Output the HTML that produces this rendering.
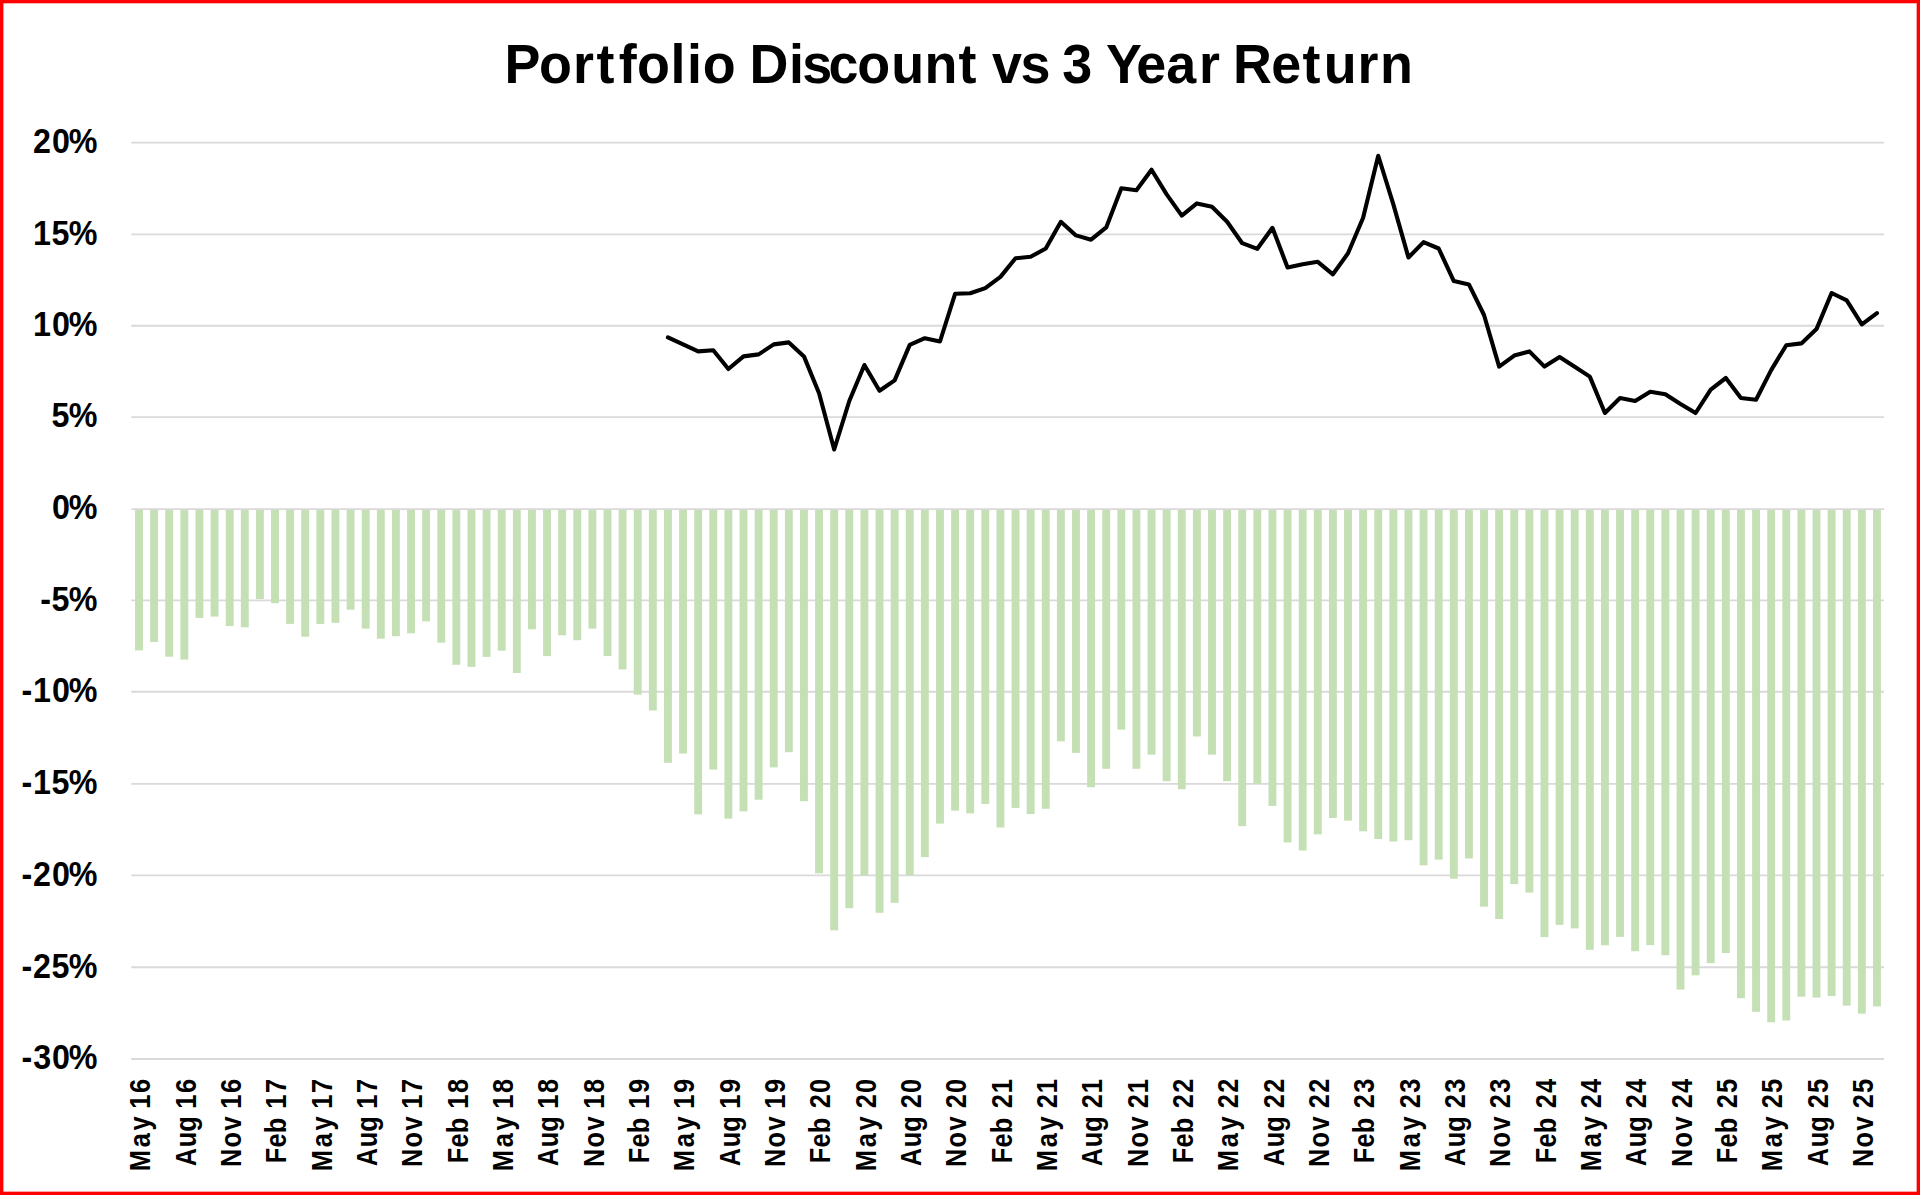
<!DOCTYPE html>
<html lang="en"><head><meta charset="utf-8"><title>Portfolio Discount vs 3 Year Return</title>
<style>html,body{margin:0;padding:0;background:#fff;overflow:hidden}svg{display:block}text{font-family:"Liberation Sans",sans-serif;font-weight:bold;fill:#000;white-space:pre}</style></head><body>
<svg width="1920" height="1195" viewBox="0 0 1920 1195">
<rect x="0" y="0" width="1920" height="1195" fill="#fff"/>
<g stroke="#d9d9d9" stroke-width="1.9" fill="none">
<line x1="131.3" y1="142.60" x2="1884.0" y2="142.60"/>
<line x1="131.3" y1="234.40" x2="1884.0" y2="234.40"/>
<line x1="131.3" y1="325.70" x2="1884.0" y2="325.70"/>
<line x1="131.3" y1="417.10" x2="1884.0" y2="417.10"/>
<line x1="131.3" y1="600.40" x2="1884.0" y2="600.40"/>
<line x1="131.3" y1="691.80" x2="1884.0" y2="691.80"/>
<line x1="131.3" y1="783.90" x2="1884.0" y2="783.90"/>
<line x1="131.3" y1="875.40" x2="1884.0" y2="875.40"/>
<line x1="131.3" y1="967.20" x2="1884.0" y2="967.20"/>
<line x1="131.3" y1="1059.00" x2="1884.0" y2="1059.00"/>
</g>
<g fill="#c5e0b4">
<rect x="135.05" y="509.10" width="7.9" height="141.30"/>
<rect x="150.16" y="509.10" width="7.9" height="132.90"/>
<rect x="165.28" y="509.10" width="7.9" height="147.60"/>
<rect x="180.39" y="509.10" width="7.9" height="150.50"/>
<rect x="195.50" y="509.10" width="7.9" height="108.80"/>
<rect x="210.61" y="509.10" width="7.9" height="107.50"/>
<rect x="225.73" y="509.10" width="7.9" height="117.00"/>
<rect x="240.84" y="509.10" width="7.9" height="118.20"/>
<rect x="255.95" y="509.10" width="7.9" height="89.90"/>
<rect x="271.06" y="509.10" width="7.9" height="94.10"/>
<rect x="286.18" y="509.10" width="7.9" height="114.80"/>
<rect x="301.29" y="509.10" width="7.9" height="127.60"/>
<rect x="316.40" y="509.10" width="7.9" height="114.80"/>
<rect x="331.51" y="509.10" width="7.9" height="113.70"/>
<rect x="346.63" y="509.10" width="7.9" height="100.60"/>
<rect x="361.74" y="509.10" width="7.9" height="119.50"/>
<rect x="376.85" y="509.10" width="7.9" height="129.60"/>
<rect x="391.96" y="509.10" width="7.9" height="127.10"/>
<rect x="407.08" y="509.10" width="7.9" height="124.20"/>
<rect x="422.19" y="509.10" width="7.9" height="112.30"/>
<rect x="437.30" y="509.10" width="7.9" height="133.60"/>
<rect x="452.41" y="509.10" width="7.9" height="155.70"/>
<rect x="467.53" y="509.10" width="7.9" height="157.80"/>
<rect x="482.64" y="509.10" width="7.9" height="147.80"/>
<rect x="497.75" y="509.10" width="7.9" height="141.60"/>
<rect x="512.87" y="509.10" width="7.9" height="163.90"/>
<rect x="527.98" y="509.10" width="7.9" height="120.20"/>
<rect x="543.09" y="509.10" width="7.9" height="147.00"/>
<rect x="558.20" y="509.10" width="7.9" height="126.20"/>
<rect x="573.32" y="509.10" width="7.9" height="131.10"/>
<rect x="588.43" y="509.10" width="7.9" height="119.50"/>
<rect x="603.54" y="509.10" width="7.9" height="147.00"/>
<rect x="618.65" y="509.10" width="7.9" height="160.40"/>
<rect x="633.77" y="509.10" width="7.9" height="185.50"/>
<rect x="648.88" y="509.10" width="7.9" height="201.40"/>
<rect x="663.99" y="509.10" width="7.9" height="253.70"/>
<rect x="679.10" y="509.10" width="7.9" height="244.40"/>
<rect x="694.22" y="509.10" width="7.9" height="305.30"/>
<rect x="709.33" y="509.10" width="7.9" height="260.50"/>
<rect x="724.44" y="509.10" width="7.9" height="309.50"/>
<rect x="739.55" y="509.10" width="7.9" height="302.30"/>
<rect x="754.67" y="509.10" width="7.9" height="290.60"/>
<rect x="769.78" y="509.10" width="7.9" height="258.30"/>
<rect x="784.89" y="509.10" width="7.9" height="243.10"/>
<rect x="800.00" y="509.10" width="7.9" height="292.10"/>
<rect x="815.12" y="509.10" width="7.9" height="364.20"/>
<rect x="830.23" y="509.10" width="7.9" height="421.30"/>
<rect x="845.34" y="509.10" width="7.9" height="399.10"/>
<rect x="860.45" y="509.10" width="7.9" height="366.10"/>
<rect x="875.57" y="509.10" width="7.9" height="403.70"/>
<rect x="890.68" y="509.10" width="7.9" height="393.70"/>
<rect x="905.79" y="509.10" width="7.9" height="366.10"/>
<rect x="920.91" y="509.10" width="7.9" height="348.00"/>
<rect x="936.02" y="509.10" width="7.9" height="314.50"/>
<rect x="951.13" y="509.10" width="7.9" height="301.50"/>
<rect x="966.24" y="509.10" width="7.9" height="304.30"/>
<rect x="981.36" y="509.10" width="7.9" height="294.80"/>
<rect x="996.47" y="509.10" width="7.9" height="318.40"/>
<rect x="1011.58" y="509.10" width="7.9" height="298.80"/>
<rect x="1026.69" y="509.10" width="7.9" height="304.90"/>
<rect x="1041.81" y="509.10" width="7.9" height="299.70"/>
<rect x="1056.92" y="509.10" width="7.9" height="232.20"/>
<rect x="1072.03" y="509.10" width="7.9" height="243.80"/>
<rect x="1087.14" y="509.10" width="7.9" height="278.10"/>
<rect x="1102.26" y="509.10" width="7.9" height="259.70"/>
<rect x="1117.37" y="509.10" width="7.9" height="220.50"/>
<rect x="1132.48" y="509.10" width="7.9" height="259.70"/>
<rect x="1147.59" y="509.10" width="7.9" height="245.60"/>
<rect x="1162.71" y="509.10" width="7.9" height="272.10"/>
<rect x="1177.82" y="509.10" width="7.9" height="280.10"/>
<rect x="1192.93" y="509.10" width="7.9" height="227.40"/>
<rect x="1208.04" y="509.10" width="7.9" height="245.60"/>
<rect x="1223.16" y="509.10" width="7.9" height="272.10"/>
<rect x="1238.27" y="509.10" width="7.9" height="317.10"/>
<rect x="1253.38" y="509.10" width="7.9" height="274.60"/>
<rect x="1268.49" y="509.10" width="7.9" height="296.80"/>
<rect x="1283.61" y="509.10" width="7.9" height="333.30"/>
<rect x="1298.72" y="509.10" width="7.9" height="341.40"/>
<rect x="1313.83" y="509.10" width="7.9" height="325.30"/>
<rect x="1328.95" y="509.10" width="7.9" height="308.90"/>
<rect x="1344.06" y="509.10" width="7.9" height="311.50"/>
<rect x="1359.17" y="509.10" width="7.9" height="322.20"/>
<rect x="1374.28" y="509.10" width="7.9" height="329.90"/>
<rect x="1389.40" y="509.10" width="7.9" height="332.40"/>
<rect x="1404.51" y="509.10" width="7.9" height="331.10"/>
<rect x="1419.62" y="509.10" width="7.9" height="356.20"/>
<rect x="1434.73" y="509.10" width="7.9" height="350.50"/>
<rect x="1449.85" y="509.10" width="7.9" height="369.60"/>
<rect x="1464.96" y="509.10" width="7.9" height="349.40"/>
<rect x="1480.07" y="509.10" width="7.9" height="397.60"/>
<rect x="1495.18" y="509.10" width="7.9" height="409.90"/>
<rect x="1510.30" y="509.10" width="7.9" height="375.00"/>
<rect x="1525.41" y="509.10" width="7.9" height="383.50"/>
<rect x="1540.52" y="509.10" width="7.9" height="428.00"/>
<rect x="1555.63" y="509.10" width="7.9" height="415.80"/>
<rect x="1570.75" y="509.10" width="7.9" height="419.30"/>
<rect x="1585.86" y="509.10" width="7.9" height="440.70"/>
<rect x="1600.97" y="509.10" width="7.9" height="436.20"/>
<rect x="1616.08" y="509.10" width="7.9" height="427.80"/>
<rect x="1631.20" y="509.10" width="7.9" height="442.10"/>
<rect x="1646.31" y="509.10" width="7.9" height="436.00"/>
<rect x="1661.42" y="509.10" width="7.9" height="446.10"/>
<rect x="1676.54" y="509.10" width="7.9" height="480.40"/>
<rect x="1691.65" y="509.10" width="7.9" height="466.20"/>
<rect x="1706.76" y="509.10" width="7.9" height="454.10"/>
<rect x="1721.87" y="509.10" width="7.9" height="443.90"/>
<rect x="1736.99" y="509.10" width="7.9" height="489.10"/>
<rect x="1752.10" y="509.10" width="7.9" height="502.70"/>
<rect x="1767.21" y="509.10" width="7.9" height="513.20"/>
<rect x="1782.32" y="509.10" width="7.9" height="511.40"/>
<rect x="1797.44" y="509.10" width="7.9" height="487.60"/>
<rect x="1812.55" y="509.10" width="7.9" height="488.40"/>
<rect x="1827.66" y="509.10" width="7.9" height="486.90"/>
<rect x="1842.77" y="509.10" width="7.9" height="496.50"/>
<rect x="1857.89" y="509.10" width="7.9" height="504.50"/>
<rect x="1873.00" y="509.10" width="7.9" height="497.30"/>
</g>
<line x1="131.3" y1="509.10" x2="1884.0" y2="509.10" stroke="#d9d9d9" stroke-width="1.9"/>
<polyline points="667.94,337.45 683.05,344.30 698.17,351.40 713.28,350.30 728.39,369.00 743.50,356.40 758.62,354.40 773.73,344.40 788.84,342.40 803.95,356.40 819.07,393.30 834.18,449.50 849.29,401.00 864.40,365.00 879.52,390.80 894.63,380.40 909.74,344.90 924.86,338.20 939.97,341.50 955.08,293.80 970.19,293.20 985.31,288.10 1000.42,276.90 1015.53,258.30 1030.64,256.80 1045.76,248.50 1060.87,221.80 1075.98,235.40 1091.09,239.70 1106.21,227.40 1121.32,188.20 1136.43,190.20 1151.54,169.70 1166.66,194.40 1181.77,215.60 1196.88,203.40 1211.99,206.70 1227.11,221.70 1242.22,243.20 1257.33,248.80 1272.44,227.80 1287.56,267.50 1302.67,264.20 1317.78,261.80 1332.90,274.30 1348.01,253.30 1363.12,217.80 1378.23,155.75 1393.35,204.40 1408.46,257.50 1423.57,242.10 1438.68,248.50 1453.80,281.10 1468.91,284.40 1484.02,315.00 1499.13,366.60 1514.25,355.60 1529.36,351.40 1544.47,366.60 1559.58,357.00 1574.70,366.70 1589.81,376.60 1604.92,413.00 1620.03,398.00 1635.15,400.90 1650.26,391.70 1665.37,394.20 1680.49,403.90 1695.60,413.00 1710.71,389.60 1725.82,378.00 1740.94,398.00 1756.05,399.70 1771.16,370.10 1786.27,345.20 1801.39,343.40 1816.50,329.10 1831.61,293.00 1846.72,300.40 1861.84,324.40 1876.95,313.05" fill="none" stroke="#000" stroke-width="4.1" stroke-linejoin="round" stroke-linecap="round"/>
<text transform="scale(0.9573,1)" font-size="56.3" y="83" x="527.12 563.02 598.44 623.23 646.25 665.29 700.54 717.67 734.23 768.62 782.83 824.22 838.10 865.49 895.52 931.04 965.86 1001.37 1020.12 1036.21 1065.97 1097.28 1109.58 1140.89 1155.42 1186.84 1218.15 1252.41 1274.31 1288.12 1327.86 1360.66 1382.87 1418.18 1441.62">Portfolio Discount vs 3 Year Return</text>
<g font-size="34.7">
<text transform="scale(0.93,1)" y="153.00" x="35.52 55.81 73.93">20%</text>
<text transform="scale(0.93,1)" y="244.80" x="35.42 55.30 73.93">15%</text>
<text transform="scale(0.93,1)" y="336.10" x="35.42 55.81 73.93">10%</text>
<text transform="scale(0.93,1)" y="427.50" x="55.30 73.93">5%</text>
<text transform="scale(0.93,1)" y="519.50" x="55.81 73.93">0%</text>
<text transform="scale(0.93,1)" y="610.80" x="43.36 55.30 73.93">-5%</text>
<text transform="scale(0.93,1)" y="702.20" x="23.01 35.42 55.81 73.93">-10%</text>
<text transform="scale(0.93,1)" y="794.30" x="23.01 35.42 55.30 73.93">-15%</text>
<text transform="scale(0.93,1)" y="885.80" x="23.01 35.52 55.81 73.93">-20%</text>
<text transform="scale(0.93,1)" y="977.60" x="23.01 35.52 55.30 73.93">-25%</text>
<text transform="scale(0.93,1)" y="1069.40" x="23.01 35.86 55.81 73.93">-30%</text>
</g>
<g font-size="29.3">
<text transform="translate(150.30,1200) rotate(-90) scale(0.865,1)" y="0" x="33.20 60.90 80.49 96.78 105.44 123.81">May 16</text>
<text transform="translate(195.64,1200) rotate(-90) scale(0.865,1)" y="0" x="39.04 60.91 78.89 96.78 105.44 123.81">Aug 16</text>
<text transform="translate(240.98,1200) rotate(-90) scale(0.865,1)" y="0" x="38.27 60.59 80.36 96.65 105.44 123.81">Nov 16</text>
<text transform="translate(286.31,1200) rotate(-90) scale(0.865,1)" y="0" x="42.52 60.68 77.30 95.20 105.44 123.83">Feb 17</text>
<text transform="translate(331.65,1200) rotate(-90) scale(0.865,1)" y="0" x="33.20 60.90 80.49 96.78 105.44 123.83">May 17</text>
<text transform="translate(376.99,1200) rotate(-90) scale(0.865,1)" y="0" x="39.04 60.91 78.89 96.78 105.44 123.83">Aug 17</text>
<text transform="translate(422.33,1200) rotate(-90) scale(0.865,1)" y="0" x="38.27 60.59 80.36 96.65 105.44 123.83">Nov 17</text>
<text transform="translate(467.66,1200) rotate(-90) scale(0.865,1)" y="0" x="42.52 60.68 77.30 95.20 105.44 123.80">Feb 18</text>
<text transform="translate(513.00,1200) rotate(-90) scale(0.865,1)" y="0" x="33.20 60.90 80.49 96.78 105.44 123.80">May 18</text>
<text transform="translate(558.34,1200) rotate(-90) scale(0.865,1)" y="0" x="39.04 60.91 78.89 96.78 105.44 123.80">Aug 18</text>
<text transform="translate(603.68,1200) rotate(-90) scale(0.865,1)" y="0" x="38.27 60.59 80.36 96.65 105.44 123.80">Nov 18</text>
<text transform="translate(649.02,1200) rotate(-90) scale(0.865,1)" y="0" x="42.52 60.68 77.30 95.20 105.44 123.85">Feb 19</text>
<text transform="translate(694.35,1200) rotate(-90) scale(0.865,1)" y="0" x="33.20 60.90 80.49 96.78 105.44 123.85">May 19</text>
<text transform="translate(739.69,1200) rotate(-90) scale(0.865,1)" y="0" x="39.04 60.91 78.89 96.78 105.44 123.85">Aug 19</text>
<text transform="translate(785.03,1200) rotate(-90) scale(0.865,1)" y="0" x="38.27 60.59 80.36 96.65 105.44 123.85">Nov 19</text>
<text transform="translate(830.37,1200) rotate(-90) scale(0.865,1)" y="0" x="42.52 60.68 77.30 95.20 106.04 123.84">Feb 20</text>
<text transform="translate(875.70,1200) rotate(-90) scale(0.865,1)" y="0" x="33.20 60.90 80.49 96.78 106.04 123.84">May 20</text>
<text transform="translate(921.04,1200) rotate(-90) scale(0.865,1)" y="0" x="39.04 60.91 78.89 96.78 106.04 123.84">Aug 20</text>
<text transform="translate(966.38,1200) rotate(-90) scale(0.865,1)" y="0" x="38.27 60.59 80.36 96.65 106.04 123.84">Nov 20</text>
<text transform="translate(1011.72,1200) rotate(-90) scale(0.865,1)" y="0" x="42.52 60.68 77.30 95.20 106.04 123.30">Feb 21</text>
<text transform="translate(1057.06,1200) rotate(-90) scale(0.865,1)" y="0" x="33.20 60.90 80.49 96.78 106.04 123.30">May 21</text>
<text transform="translate(1102.39,1200) rotate(-90) scale(0.865,1)" y="0" x="39.04 60.91 78.89 96.78 106.04 123.30">Aug 21</text>
<text transform="translate(1147.73,1200) rotate(-90) scale(0.865,1)" y="0" x="38.27 60.59 80.36 96.65 106.04 123.30">Nov 21</text>
<text transform="translate(1193.07,1200) rotate(-90) scale(0.865,1)" y="0" x="42.52 60.68 77.30 95.20 106.04 123.90">Feb 22</text>
<text transform="translate(1238.41,1200) rotate(-90) scale(0.865,1)" y="0" x="33.20 60.90 80.49 96.78 106.04 123.90">May 22</text>
<text transform="translate(1283.74,1200) rotate(-90) scale(0.865,1)" y="0" x="39.04 60.91 78.89 96.78 106.04 123.90">Aug 22</text>
<text transform="translate(1329.08,1200) rotate(-90) scale(0.865,1)" y="0" x="38.27 60.59 80.36 96.65 106.04 123.90">Nov 22</text>
<text transform="translate(1374.42,1200) rotate(-90) scale(0.865,1)" y="0" x="42.52 60.68 77.30 95.20 106.04 124.01">Feb 23</text>
<text transform="translate(1419.76,1200) rotate(-90) scale(0.865,1)" y="0" x="33.20 60.90 80.49 96.78 106.04 124.01">May 23</text>
<text transform="translate(1465.10,1200) rotate(-90) scale(0.865,1)" y="0" x="39.04 60.91 78.89 96.78 106.04 124.01">Aug 23</text>
<text transform="translate(1510.43,1200) rotate(-90) scale(0.865,1)" y="0" x="38.27 60.59 80.36 96.65 106.04 124.01">Nov 23</text>
<text transform="translate(1555.77,1200) rotate(-90) scale(0.865,1)" y="0" x="42.52 60.68 77.30 95.20 106.04 123.67">Feb 24</text>
<text transform="translate(1601.11,1200) rotate(-90) scale(0.865,1)" y="0" x="33.20 60.90 80.49 96.78 106.04 123.67">May 24</text>
<text transform="translate(1646.45,1200) rotate(-90) scale(0.865,1)" y="0" x="39.04 60.91 78.89 96.78 106.04 123.67">Aug 24</text>
<text transform="translate(1691.79,1200) rotate(-90) scale(0.865,1)" y="0" x="38.27 60.59 80.36 96.65 106.04 123.67">Nov 24</text>
<text transform="translate(1737.12,1200) rotate(-90) scale(0.865,1)" y="0" x="42.52 60.68 77.30 95.20 106.04 123.77">Feb 25</text>
<text transform="translate(1782.46,1200) rotate(-90) scale(0.865,1)" y="0" x="33.20 60.90 80.49 96.78 106.04 123.77">May 25</text>
<text transform="translate(1827.80,1200) rotate(-90) scale(0.865,1)" y="0" x="39.04 60.91 78.89 96.78 106.04 123.77">Aug 25</text>
<text transform="translate(1873.14,1200) rotate(-90) scale(0.865,1)" y="0" x="38.27 60.59 80.36 96.65 106.04 123.77">Nov 25</text>
</g>
<g fill="#ff0000"><rect x="0" y="0" width="1920" height="3.3"/><rect x="0" y="1191.65" width="1920" height="3.35"/><rect x="0" y="0" width="3.4" height="1195"/><rect x="1916.65" y="0" width="3.35" height="1195"/></g>
</svg></body></html>
